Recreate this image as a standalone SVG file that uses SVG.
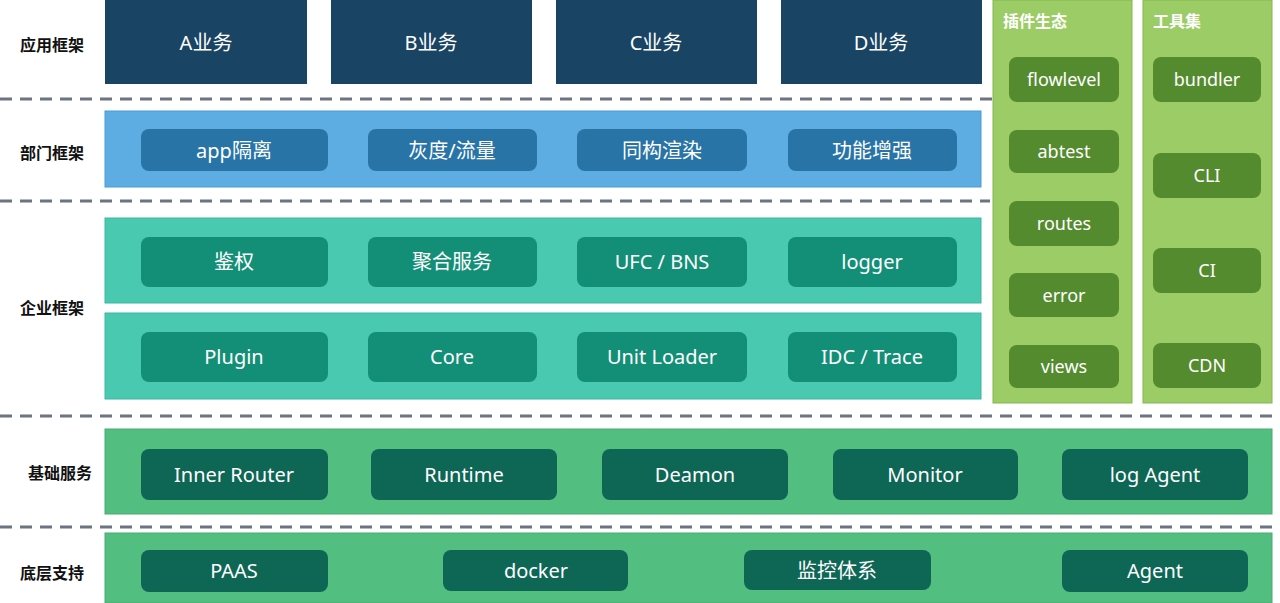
<svg xmlns="http://www.w3.org/2000/svg" width="1280" height="603" viewBox="0 0 1280 603">
<style>
text{font-family:"Noto Sans","Noto Sans CJK SC",sans-serif;text-anchor:middle;dominant-baseline:central;fill:#fff;font-size:20px}
.lbl{fill:#111;font-size:16px;font-weight:bold;font-family:"Noto Sans CJK SC",sans-serif}
.ttl{font-size:16px;font-weight:bold;text-anchor:start;font-family:"Noto Sans CJK SC",sans-serif}
.app{fill:#1a4463}
.band-dept{fill:#5dade2;stroke:#4f9bd0;stroke-width:1}
.box-dept{fill:#2874a6}
.band-ent{fill:#48c9b0;stroke:#3cb79f;stroke-width:1}
.box-ent{fill:#148f77}
.band-base{fill:#52be80;stroke:#46ad71;stroke-width:1}
.box-base{fill:#0e6655}
.col{fill:#9ccc65;stroke:#86b653;stroke-width:1}
.box-col{fill:#558b2f}
.sep{stroke:#6b7480;stroke-width:3;stroke-dasharray:12 8;fill:none}
.sm{font-size:18px}
</style>

<g id="separators">
<line class="sep" x1="0" y1="99" x2="996" y2="99"/>
<line class="sep" x1="0" y1="201" x2="990" y2="201"/>
<line class="sep" x1="0" y1="416" x2="1272" y2="416"/>
<line class="sep" x1="0" y1="527" x2="1280" y2="527"/>
</g>

<g id="layer-labels">
<text class="lbl" x="52" y="44">应用框架</text>
<text class="lbl" x="52" y="152">部门框架</text>
<text class="lbl" x="52" y="307">企业框架</text>
<text class="lbl" x="60" y="472">基础服务</text>
<text class="lbl" x="52" y="572">底层支持</text>
</g>

<g id="app-layer">
<g id="app-a"><rect class="app" x="105" y="0" width="202" height="84"/><text x="206" y="42">A业务</text></g>
<g id="app-b"><rect class="app" x="331" y="0" width="201" height="84"/><text x="431" y="42">B业务</text></g>
<g id="app-c"><rect class="app" x="556" y="0" width="201" height="84"/><text x="656" y="42">C业务</text></g>
<g id="app-d"><rect class="app" x="781" y="0" width="201" height="84"/><text x="881" y="42">D业务</text></g>
</g>

<g id="dept-layer">
<rect class="band-dept" x="105" y="111" width="876" height="76"/>
<g id="dept-app"><rect class="box-dept" x="141" y="129" width="187" height="42" rx="8"/><text x="234" y="150">app隔离</text></g>
<g id="dept-gray"><rect class="box-dept" x="368" y="129" width="169" height="42" rx="8"/><text x="452" y="150">灰度/流量</text></g>
<g id="dept-iso"><rect class="box-dept" x="577" y="129" width="170" height="42" rx="8"/><text x="662" y="150">同构渲染</text></g>
<g id="dept-enh"><rect class="box-dept" x="788" y="129" width="169" height="42" rx="8"/><text x="872" y="150">功能增强</text></g>
</g>

<g id="ent-layer">
<rect class="band-ent" x="105" y="218" width="876" height="85"/>
<rect class="band-ent" x="105" y="313" width="876" height="86"/>
<g id="ent-auth"><rect class="box-ent" x="141" y="237" width="187" height="50" rx="8"/><text x="234" y="261">鉴权</text></g>
<g id="ent-agg"><rect class="box-ent" x="368" y="237" width="169" height="50" rx="8"/><text x="452" y="261">聚合服务</text></g>
<g id="ent-ufc"><rect class="box-ent" x="577" y="237" width="170" height="50" rx="8"/><text x="662" y="261">UFC / BNS</text></g>
<g id="ent-logger"><rect class="box-ent" x="788" y="237" width="169" height="50" rx="8"/><text x="872" y="261">logger</text></g>
<g id="ent-plugin"><rect class="box-ent" x="141" y="332" width="187" height="50" rx="8"/><text x="234" y="356">Plugin</text></g>
<g id="ent-core"><rect class="box-ent" x="368" y="332" width="169" height="50" rx="8"/><text x="452" y="356">Core</text></g>
<g id="ent-unit"><rect class="box-ent" x="577" y="332" width="170" height="50" rx="8"/><text x="662" y="356">Unit Loader</text></g>
<g id="ent-idc"><rect class="box-ent" x="788" y="332" width="169" height="50" rx="8"/><text x="872" y="356">IDC / Trace</text></g>
</g>

<g id="plugin-col">
<rect class="col" x="993" y="0" width="139" height="403"/>
<text class="ttl" x="1003" y="20">插件生态</text>
<g id="pl-flowlevel"><rect class="box-col" x="1009" y="57" width="110" height="45" rx="8"/><text class="sm" x="1064" y="79">flowlevel</text></g>
<g id="pl-abtest"><rect class="box-col" x="1009" y="130" width="110" height="43" rx="8"/><text class="sm" x="1064" y="151">abtest</text></g>
<g id="pl-routes"><rect class="box-col" x="1009" y="201" width="110" height="45" rx="8"/><text class="sm" x="1064" y="223">routes</text></g>
<g id="pl-error"><rect class="box-col" x="1009" y="273" width="110" height="44" rx="8"/><text class="sm" x="1064" y="295">error</text></g>
<g id="pl-views"><rect class="box-col" x="1009" y="345" width="110" height="43" rx="8"/><text class="sm" x="1064" y="366">views</text></g>
</g>

<g id="tool-col">
<rect class="col" x="1143" y="0" width="129" height="403"/>
<text class="ttl" x="1153" y="20">工具集</text>
<g id="tl-bundler"><rect class="box-col" x="1153" y="57" width="108" height="45" rx="8"/><text class="sm" x="1207" y="79">bundler</text></g>
<g id="tl-cli"><rect class="box-col" x="1153" y="153" width="108" height="45" rx="8"/><text class="sm" x="1207" y="175">CLI</text></g>
<g id="tl-ci"><rect class="box-col" x="1153" y="248" width="108" height="45" rx="8"/><text class="sm" x="1207" y="270">CI</text></g>
<g id="tl-cdn"><rect class="box-col" x="1153" y="343" width="108" height="45" rx="8"/><text class="sm" x="1207" y="365">CDN</text></g>
</g>

<g id="base-layer">
<rect class="band-base" x="105" y="429" width="1167" height="85"/>
<g id="bs-router"><rect class="box-base" x="141" y="449" width="187" height="51" rx="8"/><text x="234" y="474">Inner Router</text></g>
<g id="bs-runtime"><rect class="box-base" x="371" y="449" width="186" height="51" rx="8"/><text x="464" y="474">Runtime</text></g>
<g id="bs-deamon"><rect class="box-base" x="602" y="449" width="186" height="51" rx="8"/><text x="695" y="474">Deamon</text></g>
<g id="bs-monitor"><rect class="box-base" x="833" y="449" width="185" height="51" rx="8"/><text x="925" y="474">Monitor</text></g>
<g id="bs-logagent"><rect class="box-base" x="1062" y="449" width="186" height="51" rx="8"/><text x="1155" y="474">log Agent</text></g>
</g>

<g id="infra-layer">
<rect class="band-base" x="105" y="533" width="1167" height="70"/>
<g id="if-paas"><rect class="box-base" x="141" y="550" width="187" height="42" rx="8"/><text x="234" y="570">PAAS</text></g>
<g id="if-docker"><rect class="box-base" x="443" y="550" width="185" height="41" rx="8"/><text x="536" y="570">docker</text></g>
<g id="if-monitor"><rect class="box-base" x="744" y="550" width="187" height="40" rx="8"/><text x="837" y="570">监控体系</text></g>
<g id="if-agent"><rect class="box-base" x="1062" y="550" width="186" height="42" rx="8"/><text x="1155" y="570">Agent</text></g>
</g>
</svg>
